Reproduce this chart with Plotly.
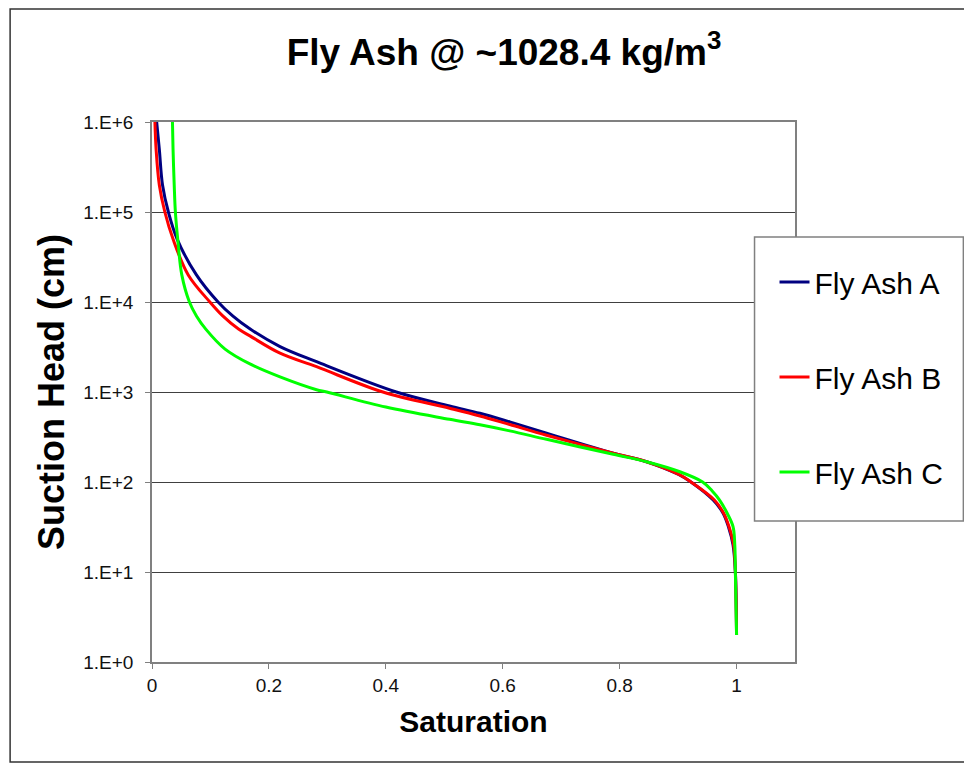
import plotly.graph_objects as go

# ---- data (saturation vs suction head in cm) ----
series_names = ["Fly Ash A", "Fly Ash B", "Fly Ash C"]
series_colors = ["#000080", "#FF0000", "#00FF00"]

ash_a_head = [1e6, 5e5, 2e5, 1e5, 5e4, 2e4, 1e4, 7e3, 5e3, 3.2e3, 2.17e3, 1e3, 700, 580, 465, 349, 209, 168, 122, 100, 63, 45, 32, 20, 10, 2]
ash_a_sat = [0.008, 0.0125, 0.018, 0.028, 0.043, 0.076, 0.113, 0.138, 0.168, 0.219, 0.2815, 0.418, 0.509, 0.561, 0.612, 0.675, 0.789, 0.846, 0.900, 0.922, 0.960, 0.977, 0.986, 0.994, 0.998, 1.0]

ash_b_head = [1e6, 5e5, 2e5, 1e5, 5e4, 2e4, 1e4, 7e3, 5e3, 4.2e3, 2.7e3, 1.91e3, 1e3, 660, 541, 435, 331, 209, 168, 120, 100, 63, 45, 32, 20, 10, 2]
ash_b_sat = [0.005, 0.007, 0.0125, 0.022, 0.036, 0.062, 0.099, 0.121, 0.148, 0.1675, 0.219, 0.2815, 0.395, 0.509, 0.561, 0.612, 0.675, 0.789, 0.846, 0.903, 0.922, 0.962, 0.978, 0.987, 0.995, 0.998, 1.0]

ash_c_head = [1e6, 5e5, 2e5, 1e5, 5e4, 2e4, 1e4, 7e3, 5e3, 3e3, 2.05e3, 1.47e3, 1.06e3, 1e3, 680, 497, 432, 370, 298, 203, 168, 130, 100, 80, 63, 45, 32, 20, 10, 2]
ash_c_sat = [0.035, 0.036, 0.038, 0.040, 0.044, 0.051, 0.064, 0.076, 0.092, 0.125, 0.1675, 0.219, 0.2815, 0.299, 0.400, 0.509, 0.561, 0.612, 0.675, 0.789, 0.846, 0.903, 0.942, 0.958, 0.971, 0.984, 0.994, 0.997, 0.998, 1.0]

y_tick_vals = [1, 10, 100, 1000, 10000, 100000, 1000000]
y_tick_text = ["1.E+0", "1.E+1", "1.E+2", "1.E+3", "1.E+4", "1.E+5", "1.E+6"]
x_tick_vals = [0, 0.2, 0.4, 0.6, 0.8, 1]
x_tick_text = ["0", "0.2", "0.4", "0.6", "0.8", "1"]

FONT = "Liberation Sans, Arial, sans-serif"

fig = go.Figure()
for name, color, xs, ys in zip(series_names, series_colors,
                               [ash_a_sat, ash_b_sat, ash_c_sat],
                               [ash_a_head, ash_b_head, ash_c_head]):
    fig.add_trace(go.Scatter(x=xs, y=ys, mode="lines", name=name,
                             legendgroup=name,
                             line=dict(color=color, width=3, shape="spline", smoothing=1.0)))

# page body has an 8px margin, so the figure is drawn 8px smaller and all
# reference pixel positions are shifted by that offset
OFF = 8
W, H = 972 - OFF, 772 - OFF
L, T = 152 - OFF, 122 - OFF
R = W - (795.5 - OFF)
B = H - (662 - OFF)
pw, ph = W - L - R, H - T - B

def px_x(px):
    return (px - OFF - L) / pw

def px_y(py):
    return (H - B - (py - OFF)) / ph

fig.update_layout(
    width=W, height=H,
    margin=dict(l=L, r=R, t=T, b=B, pad=0),
    paper_bgcolor="white", plot_bgcolor="white",
    font=dict(family=FONT, color="#000000"),
    title=dict(text="<b>Fly Ash @ ~1028.4 kg/m<sup>3</sup></b>",
               x=(504 - OFF) / W, xref="container", xanchor="center",
               y=1 - (52 - OFF) / H, yref="container", yanchor="middle",
               font=dict(size=37, family=FONT, color="#000000")),
    xaxis=dict(range=[0, 1.1], tickvals=x_tick_vals, ticktext=x_tick_text,
               showgrid=False, zeroline=False,
               showline=True, linecolor="#808080", linewidth=1.5, mirror=True,
               ticks="outside", ticklen=5, tickcolor="#808080",
               tickfont=dict(size=19, family=FONT, color="#111111"),
               title=dict(text="<b>Saturation</b>", font=dict(size=30, family=FONT), standoff=16)),
    yaxis=dict(type="log", range=[0, 6], tickvals=y_tick_vals, ticktext=y_tick_text,
               showgrid=True, gridcolor="#404040", gridwidth=1, zeroline=False,
               showline=True, linecolor="#808080", linewidth=1.5, mirror=True,
               ticks="outside", ticklen=5, tickcolor="#808080", ticklabelstandoff=8,
               tickfont=dict(size=19, family=FONT, color="#111111"),
               title=dict(text="<b>Suction Head (cm)</b>", font=dict(size=36, family=FONT), standoff=8)),
    legend=dict(x=px_x(775), y=px_y(256), xanchor="left", yanchor="top",
                bgcolor="rgba(0,0,0,0)", borderwidth=0,
                font=dict(size=30, family=FONT, color="#000000"),
                tracegroupgap=53, itemwidth=30),
    shapes=[
        dict(type="rect", xref="paper", yref="paper",
             x0=px_x(755), x1=px_x(964), y0=px_y(521), y1=px_y(237),
             line=dict(color="#808080", width=1.5), fillcolor="white", layer="above"),
        dict(type="rect", xref="paper", yref="paper",
             x0=px_x(10), x1=px_x(968), y0=px_y(762), y1=px_y(9),
             line=dict(color="#333333", width=1.5), fillcolor="rgba(0,0,0,0)", layer="below"),
    ],
)

fig.write_html("out.html")
